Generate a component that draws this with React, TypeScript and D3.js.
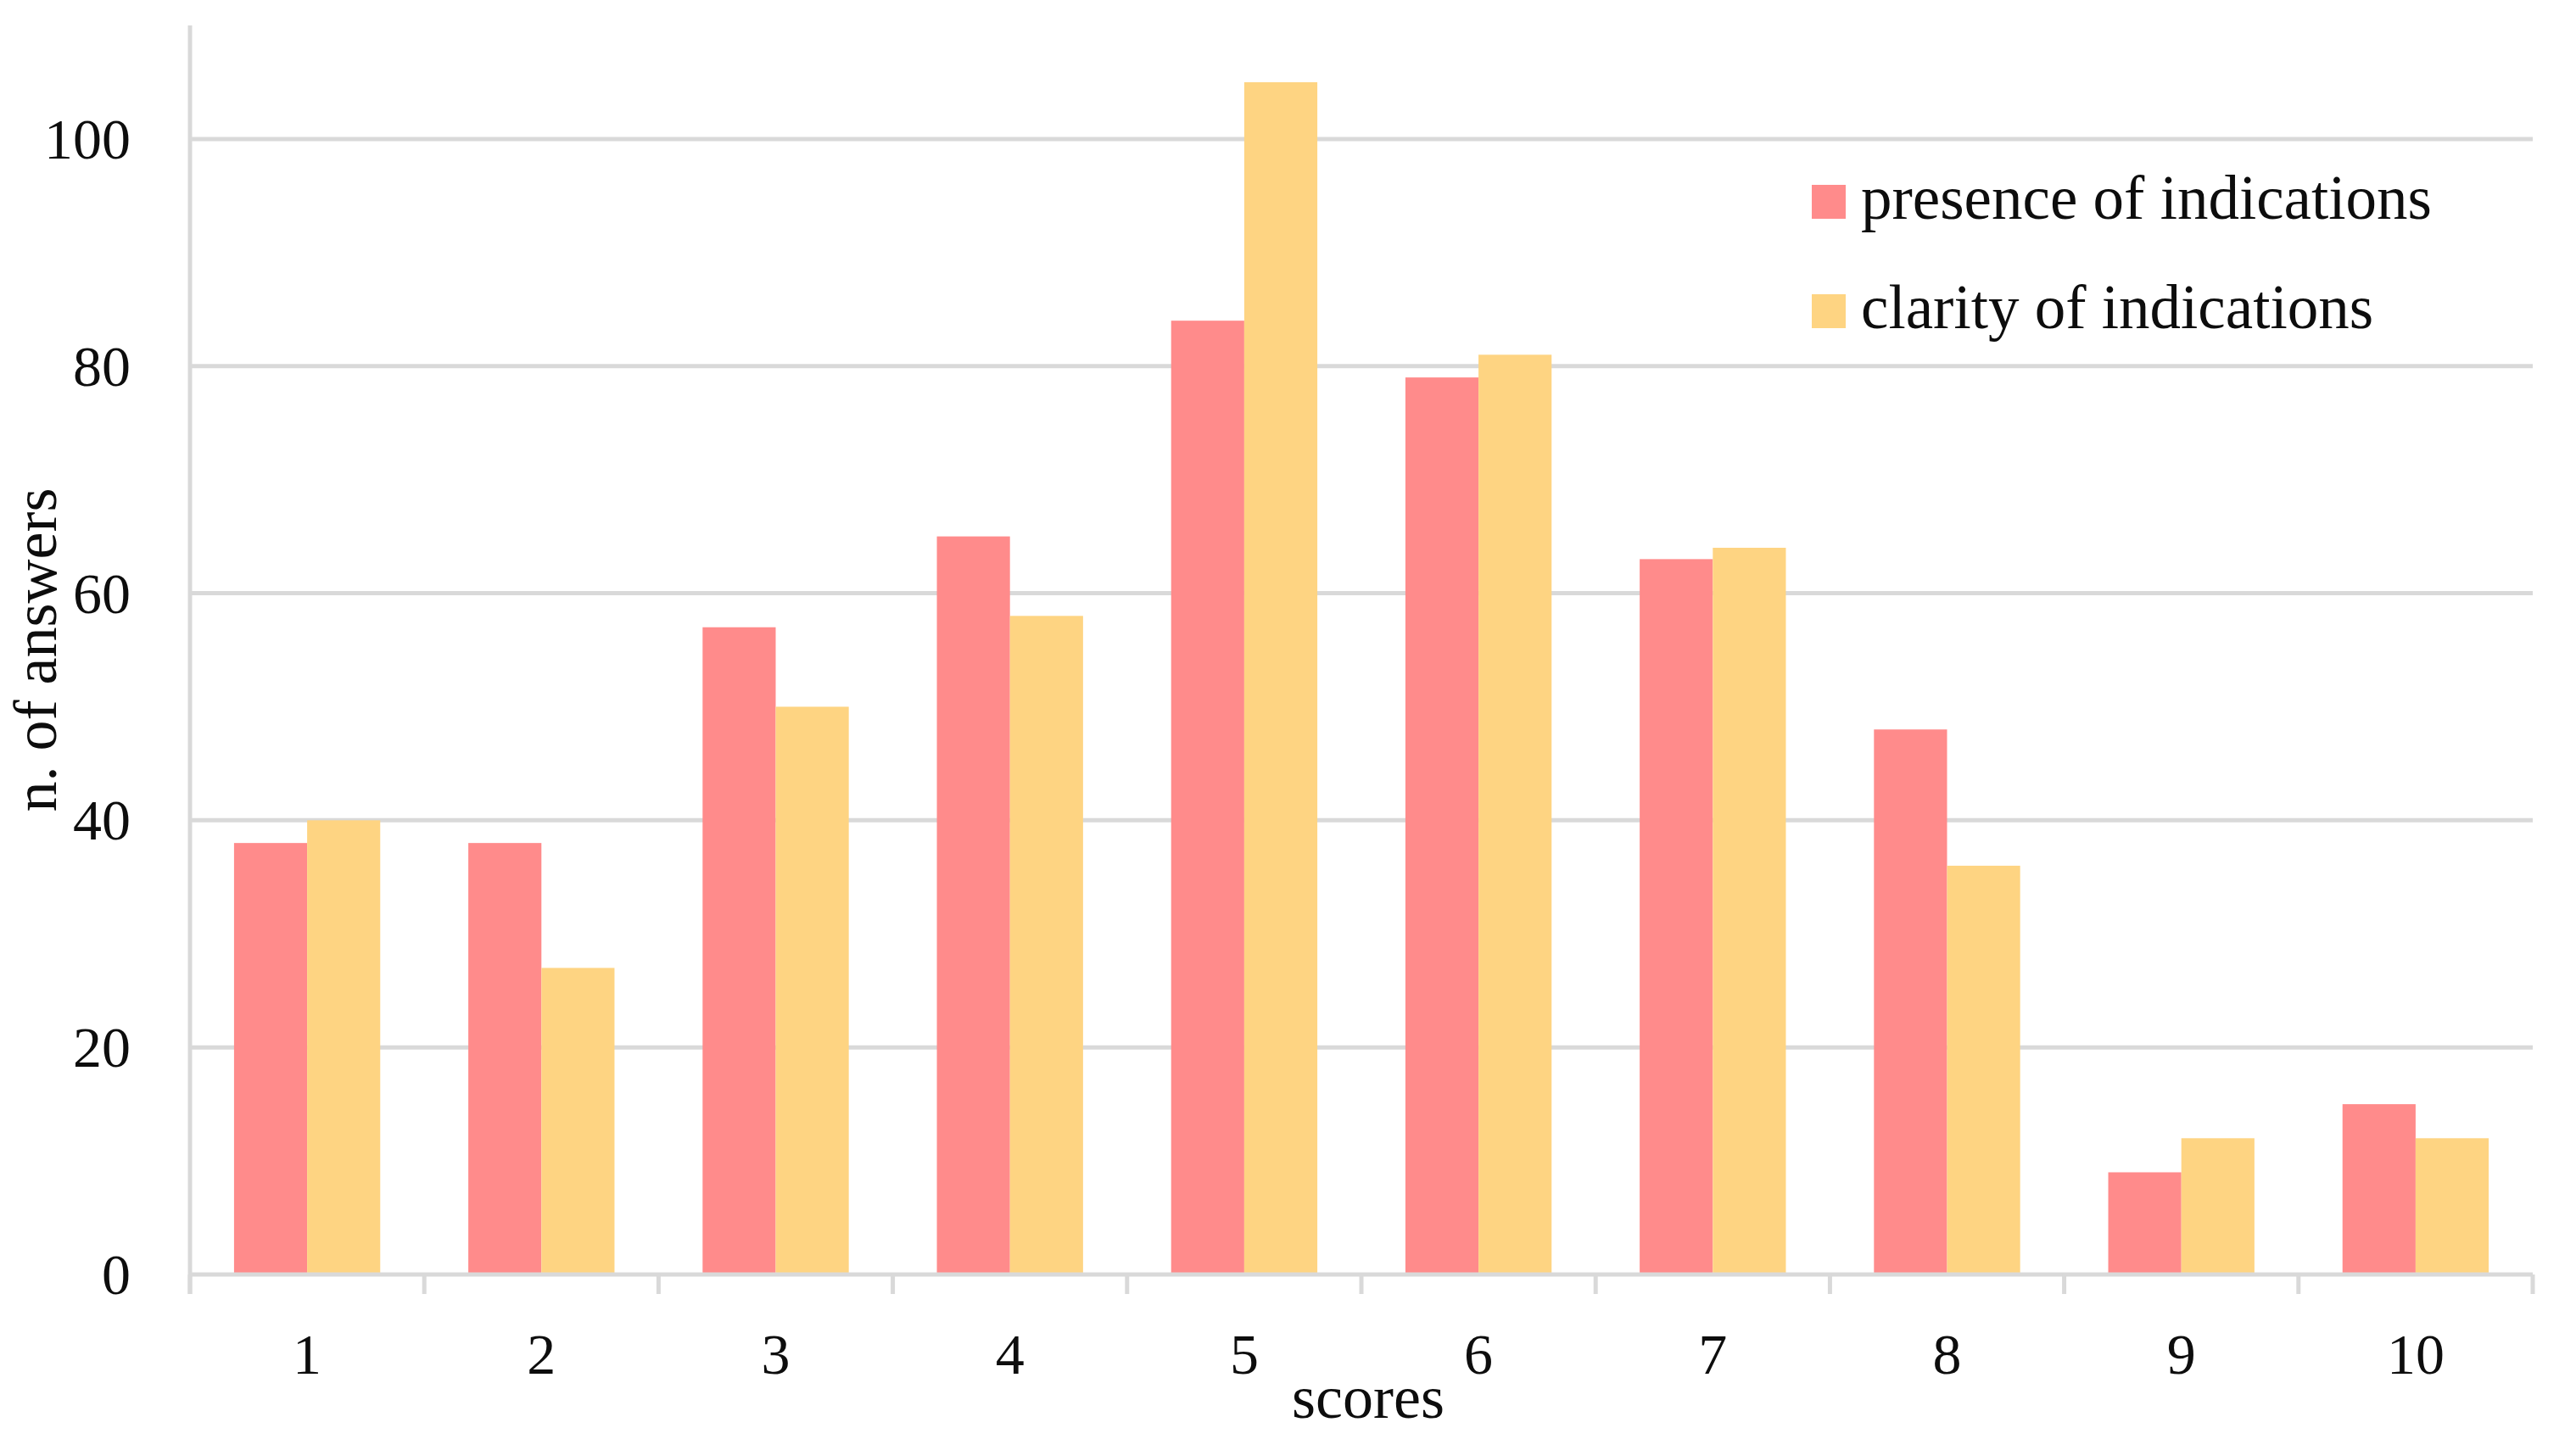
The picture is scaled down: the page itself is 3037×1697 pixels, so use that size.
import React from 'react';
import * as d3 from 'd3';

// scores on the x axis
const scores = ['1', '2', '3', '4', '5', '6', '7', '8', '9', '10'];
// n. of answers for each series
const presence = [38, 38, 57, 65, 84, 79, 63, 48, 9, 15];
const clarity = [40, 27, 50, 58, 105, 81, 64, 36, 12, 12];
const seriesNames = ['presence of indications', 'clarity of indications'];
const seriesColors = ['#FF8B8B', '#FED482'];
const yTickValues = [0, 20, 40, 60, 80, 100];

const W = 3037;
const H = 1697;
const margin = { top: 30, right: 51, bottom: 194, left: 224 };
const FONT = '"Liberation Serif", "Times New Roman", serif';
const GRID = '#D9D9D9';
const TEXT = '#0D0D0D';

const App: React.FC = () => {
  const innerW = W - margin.left - margin.right;
  const innerH = H - margin.top - margin.bottom;

  // outer band per score, ticks sit on band edges
  const x = d3.scaleBand<string>().domain(scores).range([0, innerW]).padding(0);
  const bw = x.bandwidth();
  // inner band for the two series, group takes ~62% of the band
  const groupPad = bw * 0.188;
  const xs = d3.scaleBand<number>().domain([0, 1]).range([groupPad, bw - groupPad]).padding(0);
  const y = d3.scaleLinear().domain([0, 110]).range([innerH, 0]);

  const series = [presence, clarity];
  const edges = [...scores.map(s => x(s) as number), innerW];

  return (
    <div style={{ position: 'fixed', left: 0, top: 0 }}>
      <svg width={W} height={H} style={{ display: 'block', background: '#fff', fontFamily: FONT }}>
        <g transform={`translate(${margin.left},${margin.top})`}>
          {/* 网格线 */}
          {yTickValues.filter(v => v > 0).map(v => (
            <line key={`g-${v}`} x1={0} x2={innerW} y1={y(v)} y2={y(v)} stroke={GRID} strokeWidth={5} />
          ))}

          {/* bars */}
          {series.map((vals, si) =>
            vals.map((v, i) => (
              <rect
                key={`b-${si}-${i}`}
                x={(x(scores[i]) as number) + (xs(si) as number)}
                y={y(v)}
                width={xs.bandwidth()}
                height={innerH - y(v)}
                fill={seriesColors[si]}
              />
            ))
          )}

          {/* axes */}
          <line x1={0} x2={0} y1={0} y2={innerH + 23} stroke={GRID} strokeWidth={5} />
          <line x1={0} x2={innerW} y1={innerH} y2={innerH} stroke={GRID} strokeWidth={5} />
          {edges.map((ex, i) => (
            <line key={`t-${i}`} x1={ex} x2={ex} y1={innerH} y2={innerH + 23} stroke={GRID} strokeWidth={5} />
          ))}

          {/* y tick labels */}
          {yTickValues.map(v => (
            <text key={`yl-${v}`} x={-70} y={y(v)} dy="0.34em" textAnchor="end" fontSize={68} fill={TEXT}>
              {v}
            </text>
          ))}

          {/* x tick labels */}
          {scores.map(s => (
            <text key={`xl-${s}`} x={(x(s) as number) + bw / 2} y={1620 - margin.top} textAnchor="middle" fontSize={68} fill={TEXT}>
              {s}
            </text>
          ))}

          {/* axis titles */}
          <text x={innerW / 2 + 8} y={1672 - margin.top} textAnchor="middle" fontSize={72} fill={TEXT}>
            scores
          </text>
          <text
            transform={`translate(${66 - margin.left},${innerH / 2}) rotate(-90)`}
            textAnchor="middle"
            fontSize={72}
            fill={TEXT}
          >
            n. of answers
          </text>
        </g>

        {/* legend */}
        {seriesNames.map((name, i) => (
          <g key={`lg-${i}`} transform={`translate(2136,${258 + i * 129})`}>
            <rect x={0} y={-40} width={40} height={40} fill={seriesColors[i]} />
            <text x={58} y={0} fontSize={73} fill={TEXT}>
              {name}
            </text>
          </g>
        ))}
      </svg>
    </div>
  );
};

export default App;
